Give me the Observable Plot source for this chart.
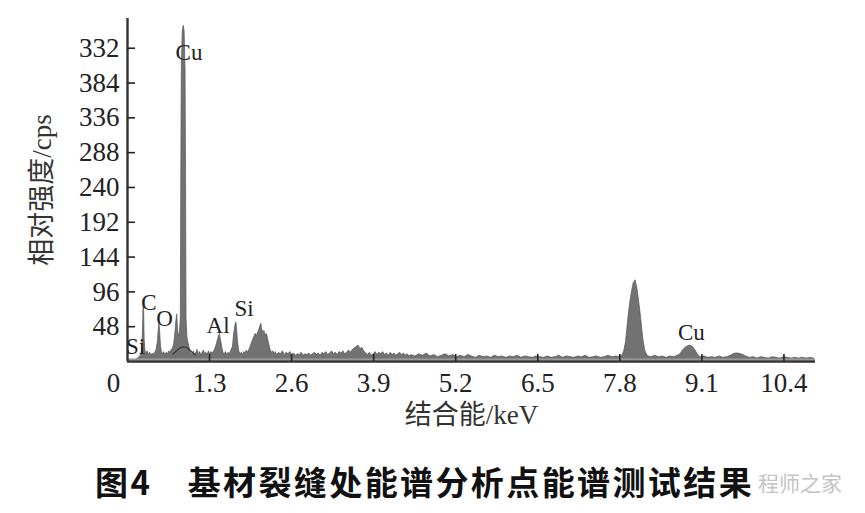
<!DOCTYPE html>
<html>
<head>
<meta charset="utf-8">
<script src="https://cdn.jsdelivr.net/npm/d3@7"></script>
<script src="https://cdn.jsdelivr.net/npm/@observablehq/plot@0.6"></script>
<style>
  html, body { margin: 0; padding: 0; background: #fff; }
  #wrap { position: relative; width: 865px; height: 513px; overflow: hidden; background: #fff; }
  #title { position: absolute; left: 95px; top: 462px; font-family: "Noto Sans CJK SC", sans-serif; font-weight: bold; font-size: 33px; line-height: 38px; color: #111; white-space: pre; letter-spacing: 2.4px; z-index: 2; }
  #wm { position: absolute; left: 758px; top: 465px; font-family: "Noto Sans CJK SC", sans-serif; font-size: 21px; line-height: 34px; color: #c4c4c4; z-index: 1; }
</style>
</head>
<body>
<div id="wrap">
  <div id="chart"></div>
  <div id="wm">程师之家</div>
  <div id="title">图4　基材裂缝处能谱分析点能谱测试结果</div>
</div>
<script>
// ---- data ----
const xTicks = [1.3, 2.6, 3.9, 5.2, 6.5, 7.8, 9.1, 10.4];
const xTickLabels = ["1.3", "2.6", "3.9", "5.2", "6.5", "7.8", "9.1", "10.4"];
const yTicks = [48, 96, 144, 192, 240, 288, 336, 384, 432];
const yTickLabels = ["48", "96", "144", "192", "240", "288", "336", "384", "332"];
const xTitle = "结合能/keV";
const yTitle = "相对强度/cps";

// spectrum: [energy keV, counts cps]
const spectrum = [
  [0.15,3],[0.18,5],[0.21,8],[0.23,14],[0.245,40],[0.252,70],[0.258,86],[0.264,68],[0.272,30],[0.285,14],
  [0.30,11],[0.32,14],[0.34,9],[0.36,12],[0.38,8],[0.40,11],[0.42,9],[0.44,12],[0.46,16],[0.48,26],
  [0.495,44],[0.507,52],[0.518,40],[0.53,22],[0.545,13],[0.56,10],[0.58,13],[0.60,9],[0.62,12],[0.64,10],
  [0.66,14],[0.68,12],[0.70,16],[0.72,18],[0.74,24],[0.76,40],[0.775,56],[0.788,65],[0.80,44],[0.815,34],
  [0.83,40],[0.845,60],[0.852,250],[0.86,400],[0.875,455],[0.89,463],[0.905,455],[0.92,400],[0.928,250],[0.935,60],
  [0.95,32],[0.97,24],[0.99,17],[1.01,12],[1.03,10],[1.05,14],[1.07,9],[1.09,12],[1.11,16],[1.13,10],
  [1.15,13],[1.17,8],[1.19,12],[1.21,15],[1.23,10],[1.25,12],[1.27,9],[1.29,14],[1.31,10],[1.33,13],
  [1.35,11],[1.38,15],[1.41,22],[1.44,32],[1.463,38],[1.48,30],[1.50,20],[1.52,12],[1.54,10],[1.56,13],
  [1.58,9],[1.60,12],[1.62,10],[1.64,14],[1.67,20],[1.69,38],[1.71,50],[1.723,54],[1.735,46],[1.75,28],
  [1.77,14],[1.79,10],[1.81,12],[1.83,9],[1.85,13],[1.87,11],[1.89,15],[1.91,12],[1.93,16],[1.95,20],
  [1.97,25],[1.99,30],[2.01,34],[2.03,38],[2.05,35],[2.07,40],[2.09,44],[2.11,50],[2.12,52],[2.13,46],
  [2.15,40],[2.17,42],[2.19,36],[2.21,38],[2.23,30],[2.25,22],[2.27,15],[2.29,12],[2.31,14],[2.33,10],
  [2.35,13],[2.37,9],[2.40,12],[2.43,10],[2.46,14],[2.49,9],[2.52,12],[2.55,10],[2.58,13],[2.61,9],
  [2.64,11],[2.67,8],[2.70,10],[2.73,9],[2.76,12],[2.79,8],[2.82,10],[2.85,9],[2.88,11],[2.91,8],
  [2.94,10],[2.97,12],[3.00,9],[3.03,11],[3.06,8],[3.09,12],[3.12,10],[3.15,13],[3.18,9],[3.21,11],
  [3.24,14],[3.27,10],[3.30,12],[3.33,9],[3.36,13],[3.39,11],[3.42,14],[3.45,10],[3.48,12],[3.51,15],
  [3.54,12],[3.57,16],[3.60,18],[3.63,20],[3.66,22],[3.69,17],[3.72,19],[3.75,14],[3.78,11],[3.81,9],
  [3.84,12],[3.87,8],[3.90,10],[3.93,13],[3.96,9],[3.99,12],[4.02,10],[4.05,13],[4.08,9],[4.11,11],
  [4.14,8],[4.17,12],[4.20,9],[4.23,11],[4.26,8],[4.29,10],[4.32,12],[4.35,9],[4.38,11],[4.41,8],
  [4.44,10],[4.47,7],[4.50,9],[4.56,7],[4.62,10],[4.68,8],[4.74,11],[4.80,7],[4.86,9],[4.92,6],
  [4.98,8],[5.04,10],[5.10,7],[5.16,9],[5.22,6],[5.28,8],[5.34,6],[5.40,9],[5.46,7],[5.52,5],
  [5.58,8],[5.64,6],[5.70,7],[5.76,5],[5.82,8],[5.88,6],[5.94,7],[6.00,5],[6.06,7],[6.12,6],
  [6.18,8],[6.24,5],[6.30,7],[6.36,6],[6.42,5],[6.48,7],[6.54,6],[6.60,5],[6.66,7],[6.72,5],
  [6.78,6],[6.84,8],[6.90,5],[6.96,7],[7.02,6],[7.08,5],[7.14,7],[7.20,6],[7.26,8],[7.32,5],
  [7.38,6],[7.44,7],[7.50,5],[7.56,6],[7.62,8],[7.68,6],[7.74,7],[7.80,6],[7.84,8],[7.87,14],
  [7.90,28],[7.93,55],[7.96,78],[7.99,95],[8.02,108],[8.05,112],[8.08,100],[8.11,80],[8.14,58],[8.17,32],
  [8.20,16],[8.23,9],[8.26,7],[8.30,6],[8.36,8],[8.42,6],[8.48,7],[8.54,5],[8.60,7],[8.66,6],
  [8.72,8],[8.76,10],[8.80,15],[8.84,19],[8.88,21],[8.92,22],[8.96,20],[9.00,15],[9.04,9],[9.08,6],
  [9.14,7],[9.20,5],[9.26,6],[9.32,5],[9.38,7],[9.44,5],[9.50,6],[9.56,8],[9.60,10],[9.64,11],
  [9.68,11],[9.72,10],[9.76,9],[9.80,7],[9.86,5],[9.92,6],[9.98,4],[10.04,6],[10.10,5],[10.16,4],
  [10.22,6],[10.28,5],[10.34,4],[10.40,6],[10.46,5],[10.52,4],[10.58,5],[10.64,4],[10.70,5],[10.76,4],
  [10.82,5],[10.88,4]
];
// fitted background arc under the Cu-L region
const bgCurve = [[0.72,10],[0.78,15],[0.84,19],[0.90,20],[0.96,18],[1.02,13],[1.08,9]];
const baseCount = 3;

// peak labels
const labelText   = ["Si", "C", "O", "Cu", "Al", "Si", "Cu"];
const labelEnergy = [0.127, 0.341, 0.587, 0.975, 1.435, 1.847, 8.933];
const labelCount  = [21, 81, 59, 426, 50, 73, 40];

// ---- chart ----
const serif = "'Liberation Serif', 'Times New Roman', 'Noto Sans CJK SC', serif";
const xLabelMap = new Map(xTicks.map((v, i) => [v, xTickLabels[i]]));
const yLabelMap = new Map(yTicks.map((v, i) => [v, yTickLabels[i]]));
const labels = labelText.map((t, i) => ({t, e: labelEnergy[i], c: labelCount[i]}));

const chart = Plot.plot({
  width: 865,
  height: 440,
  marginTop: 18,
  marginBottom: 79,
  marginLeft: 127,
  marginRight: 50,
  style: {fontFamily: serif, background: "#fff", color: "#222"},
  x: {domain: [0, 10.9], axis: null},
  y: {domain: [0, 473], axis: null},
  marks: [
    Plot.area(spectrum, {x1: d => d[0], y1: () => baseCount, y2: d => d[1], fill: "#727272", stroke: "#555", strokeWidth: 0.7}),
    Plot.line(bgCurve, {x: d => d[0], y: d => d[1], curve: "natural", stroke: "#333", strokeWidth: 1.2}),
    Plot.ruleY([baseCount], {stroke: "#9a9a9a", strokeWidth: 1.8}),
    Plot.ruleY([0], {stroke: "#333", strokeWidth: 2.4}),
    Plot.ruleX([0], {stroke: "#333", strokeWidth: 2.4}),
    // inward tick marks
    Plot.axisX({ticks: xTicks, anchor: "bottom", tickSize: 7, dy: -7, tickFormat: () => "", label: null, stroke: "#222", strokeWidth: 1.6}),
    Plot.axisY({ticks: yTicks, anchor: "left", tickSize: 8, dx: 8, tickFormat: () => "", label: null, stroke: "#222", strokeWidth: 1.6}),
    // tick labels
    Plot.axisX({ticks: xTicks, anchor: "bottom", tickSize: 0, tickPadding: 11, tickFormat: d => xLabelMap.get(d), label: null, fontSize: 27, fontFamily: serif, fill: "#222"}),
    Plot.axisY({ticks: yTicks, anchor: "left", tickSize: 0, tickPadding: 8, tickFormat: d => yLabelMap.get(d), label: null, fontSize: 27, fontFamily: serif, fill: "#222"}),
    Plot.text(["0"], {x: () => 0, y: () => 0, dx: -14, dy: 22, fontSize: 27, fontFamily: serif, fill: "#222"}),
    Plot.text(labels, {x: "e", y: "c", text: "t", fontSize: 23, fontFamily: serif, fill: "#222"}),
    Plot.text([xTitle], {frameAnchor: "bottom", dy: 62, fontSize: 27, fontFamily: serif, fill: "#333"}),
    Plot.text([yTitle], {frameAnchor: "left", textAnchor: "middle", dx: -85, rotate: -90, fontSize: 27, fontFamily: serif, fill: "#333"})
  ]
});
document.getElementById("chart").appendChild(chart);
</script>
</body>
</html>
